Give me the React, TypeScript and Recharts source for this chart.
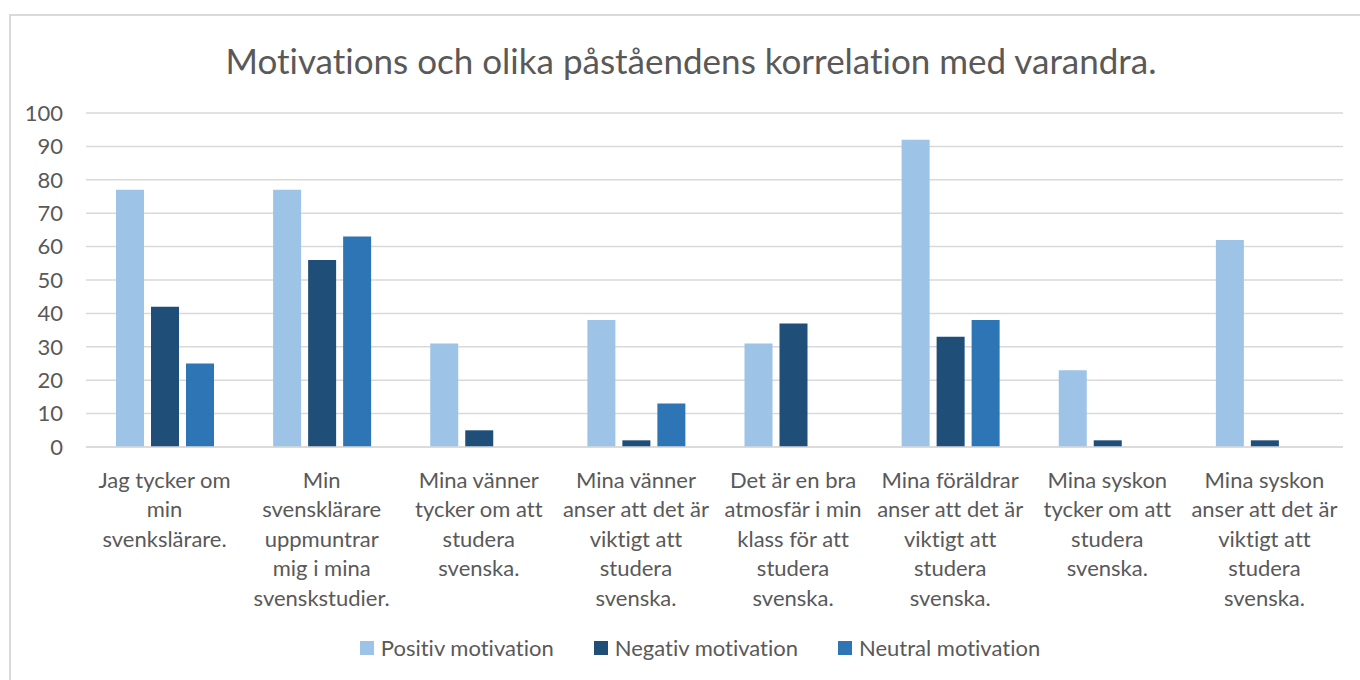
import React from "react";
import { BarChart, Bar, XAxis, YAxis, CartesianGrid } from "recharts";

const categories = [
  "Jag tycker om\nmin\nsvenkslärare.",
  "Min\nsvensklärare\nuppmuntrar\nmig i mina\nsvenskstudier.",
  "Mina vänner\ntycker om att\nstudera\nsvenska.",
  "Mina vänner\nanser att det är\nviktigt att\nstudera\nsvenska.",
  "Det är en bra\natmosfär i min\nklass för att\nstudera\nsvenska.",
  "Mina föräldrar\nanser att det är\nviktigt att\nstudera\nsvenska.",
  "Mina syskon\ntycker om att\nstudera\nsvenska.",
  "Mina syskon\nanser att det är\nviktigt att\nstudera\nsvenska.",
];

const positiv = [77, 77, 31, 38, 31, 92, 23, 62];
const negativ = [42, 56, 5, 2, 37, 33, 2, 2];
const neutral = [25, 63, 0, 13, 0, 38, 0, 0];

const yTicks = [0, 10, 20, 30, 40, 50, 60, 70, 80, 90, 100];

const series = [
  { key: "positiv", name: "Positiv motivation", color: "#9DC3E6" },
  { key: "negativ", name: "Negativ motivation", color: "#1F4E79" },
  { key: "neutral", name: "Neutral motivation", color: "#2E75B6" },
];

const data = categories.map((cat, i) => ({
  cat,
  positiv: positiv[i],
  negativ: negativ[i],
  neutral: neutral[i],
}));

const FONT = "Lato, 'Liberation Sans', sans-serif";
const TEXT = "#595959";

function CategoryTick(props: any) {
  const { x, y, payload } = props;
  const lines = String(payload.value).split("\n");
  return (
    <text
      x={x}
      y={y + 39}
      textAnchor="middle"
      fill={TEXT}
      fontSize={22}
      fontFamily={FONT}
      style={{ fontVariantLigatures: "none" }}
    >
      {lines.map((line: string, i: number) => (
        <tspan key={i} x={x} dy={i === 0 ? 0 : 29.4}>
          {line}
        </tspan>
      ))}
    </text>
  );
}

export default function App() {
  return (
    <div
      style={{
        position: "fixed",
        left: 0,
        top: 0,
        width: 1360,
        height: 680,
        overflow: "hidden",
        background: "#fff",
        fontFamily: FONT,
        fontVariantLigatures: "none",
      }}
    >
      {/* chart frame, runs off the right and bottom edge */}
      <div
        style={{
          position: "absolute",
          left: 9,
          top: 14,
          width: 1400,
          height: 720,
          border: "2px solid #d9d9d9",
        }}
      />

      <div
        style={{
          position: "absolute",
          top: 38,
          left: 0,
          width: 1382,
          textAlign: "center",
          fontSize: 35,
          color: TEXT,
          lineHeight: "44px",
        }}
      >
        Motivations och olika påståendens korrelation med varandra.
      </div>

      <div style={{ position: "absolute", left: 0, top: 0 }}>
        <BarChart
          width={1360}
          height={680}
          data={data}
          margin={{ top: 113, right: 17, bottom: 73, left: 0 }}
          barCategoryGap={30}
          barGap={7}
        >
          <CartesianGrid vertical={false} stroke="#d9d9d9" strokeWidth={1.5} />
          <XAxis
            dataKey="cat"
            interval={0}
            height={160}
            tickLine={false}
            tickSize={0}
            axisLine={{ stroke: "#d9d9d9", strokeWidth: 1.5 }}
            tick={<CategoryTick />}
          />
          <YAxis
            width={86}
            domain={[0, 100]}
            ticks={yTicks}
            axisLine={false}
            tickLine={false}
            tickSize={0}
            tickMargin={23}
            tick={{ fill: TEXT, fontSize: 22, fontFamily: FONT }}
          />
          {series.map((s) => (
            <Bar
              key={s.key}
              dataKey={s.key}
              name={s.name}
              fill={s.color}
              isAnimationActive={false}
            />
          ))}
        </BarChart>
      </div>

      <div
        style={{
          position: "absolute",
          top: 633,
          left: 0,
          width: 1400,
          display: "flex",
          justifyContent: "center",
          gap: 40,
          fontSize: 22,
          color: TEXT,
          lineHeight: "30px",
        }}
      >
        {series.map((s) => (
          <div key={s.key} style={{ display: "flex", alignItems: "center" }}>
            <span
              style={{
                width: 14,
                height: 14,
                background: s.color,
                display: "inline-block",
                marginRight: 7,
              }}
            />
            {s.name}
          </div>
        ))}
      </div>
    </div>
  );
}
